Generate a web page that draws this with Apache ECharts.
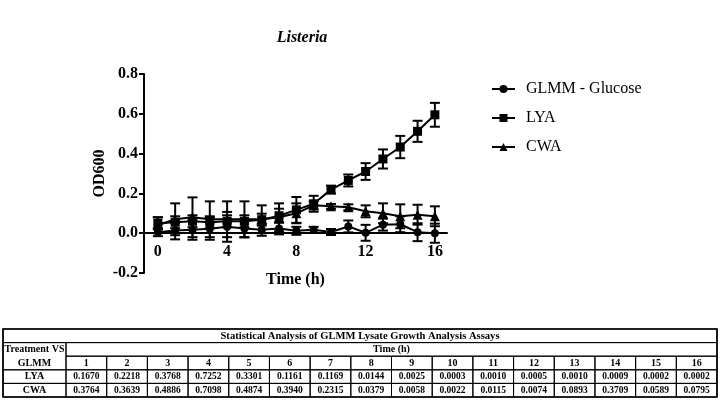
<!DOCTYPE html>
<html>
<head>
<meta charset="utf-8">
<script src="https://cdn.jsdelivr.net/npm/echarts@6/dist/echarts.min.js"></script>
<style>
html,body{margin:0;padding:0;background:#fff;}
#chart{width:722px;height:407px;}
</style>
</head>
<body>
<div id="chart"></div>
<script>
// ---- Data ----
var hours = [0,1,2,3,4,5,6,7,8,9,10,11,12,13,14,15,16];
var glmmMean = [0.005,0.014,0.017,0.022,0.032,0.024,0.017,0.024,0.012,0.017,0.006,0.034,0.002,0.043,0.045,0.005,0.0];
var glmmErr  = [0.02,0.045,0.05,0.055,0.075,0.045,0.03,0.03,0.02,0.015,0.015,0.03,0.04,0.03,0.04,0.045,0.048];
var lyaMean  = [0.05,0.055,0.06,0.055,0.06,0.06,0.068,0.088,0.117,0.148,0.219,0.265,0.31,0.373,0.433,0.512,0.595];
var lyaErr   = [0.03,0.03,0.03,0.03,0.03,0.03,0.03,0.035,0.065,0.04,0.02,0.03,0.042,0.048,0.056,0.053,0.06];
var cwaMean  = [0.04,0.07,0.08,0.07,0.07,0.07,0.07,0.08,0.1,0.14,0.135,0.13,0.11,0.10,0.085,0.093,0.085];
var cwaErr   = [0.04,0.08,0.1,0.09,0.09,0.09,0.07,0.07,0.05,0.02,0.012,0.015,0.03,0.05,0.06,0.05,0.05];
var seriesNames = ['GLMM - Glucose','LYA','CWA'];
var xTicks = [0,4,8,12,16];

// ---- Table data ----
var tableTitle = 'Statistical Analysis of GLMM Lysate Growth Analysis Assays';
var tableHours = ['1','2','3','4','5','6','7','8','9','10','11','12','13','14','15','16'];
var lyaP = ['0.1670','0.2218','0.3768','0.7252','0.3301','0.1161','0.1169','0.0144','0.0025','0.0003','0.0010','0.0005','0.0010','0.0009','0.0002','0.0002'];
var cwaP = ['0.3764','0.3639','0.4886','0.7098','0.4874','0.3940','0.2315','0.0379','0.0058','0.0022','0.0115','0.0074','0.0893','0.3709','0.0589','0.0795'];
var rowLabels = ['LYA','CWA'];

// ---- Build ----
function pairs(m){ return hours.map(function(h,i){ return [h, m[i]]; }); }
function errs(m,e){ return hours.map(function(h,i){ return [h, m[i]-e[i], m[i]+e[i]]; }); }

var serif = 'Liberation Serif, Times New Roman, serif';

function errRender(params, api){
  var x = api.value(0);
  var lo = api.coord([x, api.value(1)]);
  var hi = api.coord([x, api.value(2)]);
  var w = 5;
  var st = {stroke:'#000', lineWidth:2, fill:null};
  return {type:'group', children:[
    {type:'line', shape:{x1:lo[0],y1:lo[1],x2:hi[0],y2:hi[1]}, style:st},
    {type:'line', shape:{x1:hi[0]-w,y1:hi[1],x2:hi[0]+w,y2:hi[1]}, style:st},
    {type:'line', shape:{x1:lo[0]-w,y1:lo[1],x2:lo[0]+w,y2:lo[1]}, style:st}
  ]};
}

function lineSeries(name, data, symbol, size){
  return {type:'line', name:name, data:pairs(data), symbol:symbol, symbolSize:size,
    showAllSymbol:true, lineStyle:{color:'#000', width:2}, itemStyle:{color:'#000'},
    emphasis:{disabled:true}, z:5, animation:false};
}
function errSeries(name, m, e){
  return {type:'custom', name:name+' err', data:errs(m,e), renderItem:errRender, z:4, animation:false, silent:true};
}

// ---- Table graphic ----
var tLeft = 3, tRight = 717, firstW = 63, tTop = 329, rowH = 13.6;
var colW = (tRight - tLeft - firstW) / tableHours.length;
var g = [];
var boldFont = 'bold 10px ' + serif;
function cellRect(x,y,w,h,lw){ g.push({type:'rect', shape:{x:x,y:y,width:w,height:h}, style:{fill:null, stroke:'#000', lineWidth:lw||1}, silent:true}); }
function cellText(txt,cx,cy,font){ g.push({type:'text', x:cx, y:cy, style:{text:txt, font:font||boldFont, fill:'#000', align:'center', verticalAlign:'middle', textAlign:'center', textVerticalAlign:'middle'}, silent:true}); }
// title row
cellRect(tLeft, tTop, tRight-tLeft, rowH);
cellText(tableTitle, (tLeft+tRight)/2, tTop+rowH/2+0.5, 'bold 10.6px ' + serif);
// first column (merged rows 2-3)
cellRect(tLeft, tTop+rowH, firstW, rowH*2);
cellText('Treatment VS', tLeft+firstW/2, tTop+rowH*1.5);
cellText('GLMM', tLeft+firstW/2, tTop+rowH*2.5);
// Time (h) row
cellRect(tLeft+firstW, tTop+rowH, tRight-tLeft-firstW, rowH);
cellText('Time (h)', tLeft+firstW+(tRight-tLeft-firstW)/2, tTop+rowH*1.5);
// header hours
tableHours.forEach(function(hh,i){
  var x = tLeft+firstW+i*colW;
  cellRect(x, tTop+rowH*2, colW, rowH);
  cellText(hh, x+colW/2, tTop+rowH*2.5);
});
[lyaP, cwaP].forEach(function(arr, r){
  var y = tTop + rowH*(3+r);
  cellRect(tLeft, y, firstW, rowH);
  cellText(rowLabels[r], tLeft+firstW/2, y+rowH/2);
  arr.forEach(function(v,i){
    var x = tLeft+firstW+i*colW;
    cellRect(x, y, colW, rowH);
    cellText(v, x+colW/2, y+rowH/2, 'bold 9.5px ' + serif);
  });
});
// outer border
cellRect(tLeft, tTop, tRight-tLeft, rowH*5, 1.6);

var chart = echarts.init(document.getElementById('chart'));
chart.setOption({
  animation:false,
  backgroundColor:'#fff',
  title:{text:'Listeria', left:297, top:25, textAlign:'center',
    textStyle:{fontFamily:serif, fontStyle:'italic', fontWeight:'bold', fontSize:16, color:'#000'}},
  legend:{data:seriesNames, orient:'vertical', left:491, top:81, padding:0, itemGap:13, itemWidth:23, itemHeight:10,
    textStyle:{fontFamily:serif, fontSize:16, color:'#000', padding:[0,0,0,6]}, selectedMode:false},
  grid:{left:144, top:74, width:303, height:199, containLabel:false},
  xAxis:{type:'value', min:-0.8, max:16.7, offset:-39.8,
    name:'Time (h)', nameLocation:'middle', nameGap:39,
    nameTextStyle:{fontFamily:serif, fontWeight:'bold', fontSize:16, color:'#000'},
    axisLine:{onZero:false, lineStyle:{color:'#000', width:2}},
    axisTick:{show:false},
    axisLabel:{customValues:xTicks, margin:11, fontFamily:serif, fontWeight:'bold', fontSize:16, color:'#000'},
    splitLine:{show:false}},
  yAxis:{type:'value', min:-0.2, max:0.8, interval:0.2,
    name:'OD600', nameLocation:'middle', nameGap:36, nameRotate:90,
    nameTextStyle:{fontFamily:serif, fontWeight:'bold', fontSize:16, color:'#000'},
    axisLine:{show:true, onZero:false, lineStyle:{color:'#000', width:2}},
    axisTick:{show:true, length:5, lineStyle:{color:'#000', width:2}},
    axisLabel:{margin:6, fontFamily:serif, fontWeight:'bold', fontSize:16, color:'#000',
      formatter:function(v){ return v.toFixed(1); }},
    splitLine:{show:false}},
  series:[
    errSeries(seriesNames[0], glmmMean, glmmErr),
    errSeries(seriesNames[1], lyaMean, lyaErr),
    errSeries(seriesNames[2], cwaMean, cwaErr),
    lineSeries(seriesNames[0], glmmMean, 'circle', 8),
    lineSeries(seriesNames[1], lyaMean, 'rect', 9),
    lineSeries(seriesNames[2], cwaMean, 'triangle', 10)
  ],
  graphic:g
});
</script>
</body>
</html>
